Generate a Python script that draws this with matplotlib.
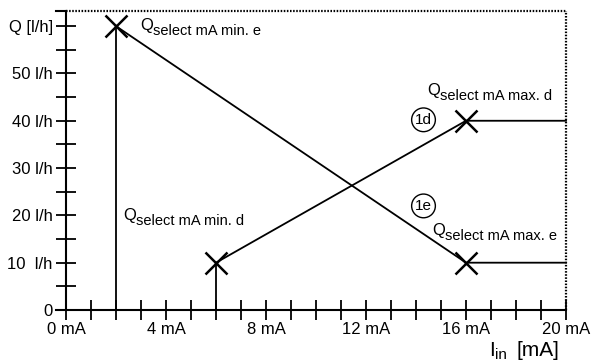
import matplotlib
matplotlib.use("Agg")
import matplotlib.pyplot as plt
from matplotlib.ticker import MultipleLocator

plt.rcParams['font.family'] = ['Liberation Sans', 'DejaVu Sans']

# data
curve_e_x = [2, 2, 16, 20]
curve_e_y = [0, 60, 10, 10]
curve_d_x = [6, 6, 16, 20]
curve_d_y = [0, 10, 40, 40]
marker_x = [2, 6, 16, 16]
marker_y = [60, 10, 40, 10]
xticks = [0, 4, 8, 12, 16, 20]
xticklabels = ['0 mA', '4 mA', '8 mA', '12 mA', '16 mA', '20 mA']
yticks = [0, 10, 20, 30, 40, 50, 60]
yticklabels = ['0', '10  l/h', '20 l/h', '30 l/h', '40 l/h', '50 l/h', 'Q [l/h]']

W, H = 597, 363
fig = plt.figure(figsize=(W/100, H/100), dpi=100)
ax = fig.add_axes([66/W, (H-310)/H, 500/W, 299/H])
xmax, ymax = 20, 63.2
ax.set_xlim(0, xmax)
ax.set_ylim(0, ymax)

for s in ax.spines.values():
    s.set_visible(False)

# axes lines
ax.plot([-0.4, 20], [0, 0], color='black', lw=1.5, clip_on=False)
ax.plot([0, 0], [0, ymax], color='black', lw=1.5, clip_on=False)
ax.plot([-0.4, 0], [ymax, ymax], color='black', lw=1.5, clip_on=False)
ax.plot([0, 20], [ymax, ymax], color='black', lw=1.6, ls=(0, (0.7, 0.7)), clip_on=False)
ax.plot([20, 20], [0, ymax], color='black', lw=1.6, ls=(0, (0.7, 0.7)), clip_on=False)

ax.plot(curve_e_x, curve_e_y, color='black', lw=1.3, clip_on=False)
ax.plot(curve_d_x, curve_d_y, color='black', lw=1.3, clip_on=False)
ax.plot(marker_x, marker_y, ls='none', marker='x', markersize=16, mew=1.8,
        color='black', clip_on=False, zorder=5)

ax.set_xticks(xticks)
ax.set_xticklabels(xticklabels)
ax.xaxis.set_minor_locator(MultipleLocator(1))
ax.set_yticks(yticks)
ax.set_yticklabels(yticklabels)
ax.yaxis.set_minor_locator(MultipleLocator(5))
ax.tick_params(which='both', direction='inout', length=15, width=1.3,
               labelsize=12, color='black')
ax.tick_params(axis='x', pad=1)
ax.tick_params(axis='y', pad=2)

def qlabel(x, y, sub):
    ax.text(x, y, 'Q', fontsize=12, ha='left', va='baseline')
    ax.annotate(sub, xy=(x, y), xytext=(9.6, -3.5), textcoords='offset points',
                fontsize=10.5, ha='left', va='baseline')

qlabel(2.96, 59.2, 'select mA min. e')
qlabel(2.28, 19.0, 'select mA min. d')
qlabel(14.44, 45.5, 'select mA max. d')
qlabel(14.64, 15.9, 'select mA max. e')

for x, y, t in [(14.3, 40.2, '1d'), (14.3, 22.0, '1e')]:
    ax.text(x, y, t, fontsize=11, ha='center', va='center',
            bbox=dict(boxstyle='circle,pad=0.22', fc='white', ec='black', lw=1.0))

fig.text(489/W, 1 - 356/H, 'I', fontsize=15, ha='left', va='baseline')
fig.text(495/W, 1 - 359/H, 'in', fontsize=11, ha='left', va='baseline')
fig.text(516/W, 1 - 356/H, '[mA]', fontsize=15, ha='left', va='baseline')

fig.savefig('out.png', dpi=100)
